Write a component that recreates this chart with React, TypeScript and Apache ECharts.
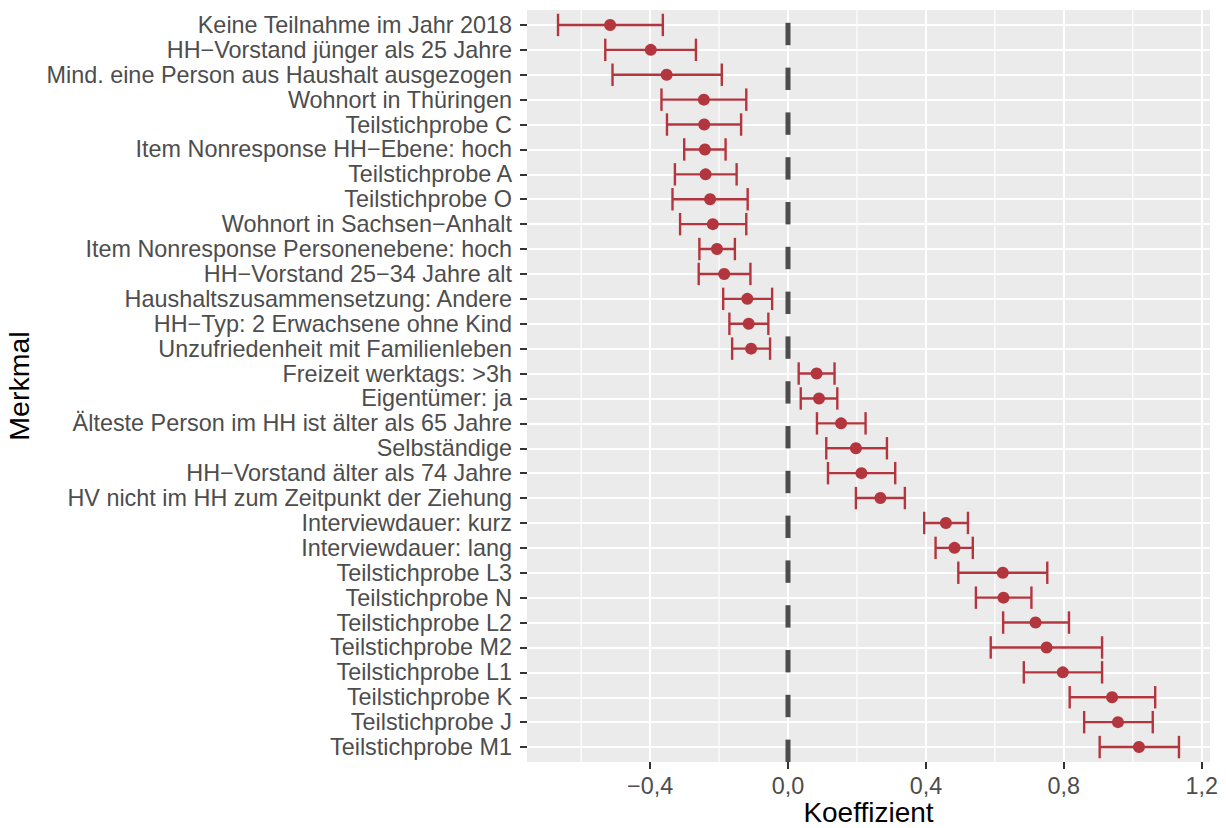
import React, { useEffect, useRef } from "react";
import * as echarts from "echarts";

const categories: string[] = [
  "Keine Teilnahme im Jahr 2018",
  "HH−Vorstand jünger als 25 Jahre",
  "Mind. eine Person aus Haushalt ausgezogen",
  "Wohnort in Thüringen",
  "Teilstichprobe C",
  "Item Nonresponse HH−Ebene: hoch",
  "Teilstichprobe A",
  "Teilstichprobe O",
  "Wohnort in Sachsen−Anhalt",
  "Item Nonresponse Personenebene: hoch",
  "HH−Vorstand 25−34 Jahre alt",
  "Haushaltszusammensetzung: Andere",
  "HH−Typ: 2 Erwachsene ohne Kind",
  "Unzufriedenheit mit Familienleben",
  "Freizeit werktags: >3h",
  "Eigentümer: ja",
  "Älteste Person im HH ist älter als 65 Jahre",
  "Selbständige",
  "HH−Vorstand älter als 74 Jahre",
  "HV nicht im HH zum Zeitpunkt der Ziehung",
  "Interviewdauer: kurz",
  "Interviewdauer: lang",
  "Teilstichprobe L3",
  "Teilstichprobe N",
  "Teilstichprobe L2",
  "Teilstichprobe M2",
  "Teilstichprobe L1",
  "Teilstichprobe K",
  "Teilstichprobe J",
  "Teilstichprobe M1",
];

const estimate: number[] = [
  -0.516, -0.398, -0.352, -0.244, -0.243, -0.241, -0.239, -0.226, -0.218, -0.206,
  -0.185, -0.118, -0.114, -0.107, 0.083, 0.09, 0.154, 0.197, 0.213, 0.268,
  0.458, 0.483, 0.623, 0.625, 0.718, 0.75, 0.797, 0.94, 0.957, 1.018,
];

const lower: number[] = [
  -0.667, -0.53, -0.509, -0.367, -0.351, -0.301, -0.328, -0.335, -0.313, -0.257,
  -0.259, -0.188, -0.17, -0.162, 0.031, 0.037, 0.084, 0.111, 0.116, 0.197,
  0.395, 0.428, 0.494, 0.545, 0.624, 0.588, 0.684, 0.817, 0.859, 0.904,
];

const upper: number[] = [
  -0.363, -0.267, -0.192, -0.121, -0.136, -0.181, -0.149, -0.117, -0.121, -0.154,
  -0.109, -0.046, -0.057, -0.052, 0.135, 0.143, 0.225, 0.287, 0.311, 0.339,
  0.522, 0.536, 0.752, 0.706, 0.815, 0.911, 0.911, 1.065, 1.058, 1.134,
];

const xMajorBreaks: number[] = [-0.4, 0, 0.4, 0.8, 1.2];
const xMinorBreaks: number[] = [-0.6, -0.2, 0.2, 0.6, 1.0];
const refLine: number[] = [0];

const X_MIN = -0.757;
const X_MAX = 1.224;
const Y_MIN = 0.4;
const Y_MAX = categories.length + 0.6;

const RED = "#B3363E";
const FONT = "Liberation Sans";
const DASH = 22.4;
const GAP = 22.4;

const fmtX = (v: number) => {
  const s = Math.abs(v).toFixed(1).replace(".", ",");
  return v < -1e-9 ? "−" + s : s;
};

export default function App() {
  const ref = useRef<HTMLDivElement>(null);

  useEffect(() => {
    if (!ref.current) return;
    const chart = echarts.init(ref.current, undefined, { renderer: "svg" });
    const yPos = categories.map((_, i) => i + 1);

    const option: any = {
      animation: false,
      backgroundColor: "#FFFFFF",
      textStyle: { fontFamily: FONT },
      grid: {
        left: 527,
        right: 16,
        top: 10,
        bottom: 66,
        show: true,
        backgroundColor: "#EBEBEB",
        borderWidth: 0,
        containLabel: false,
        outerBoundsMode: "none",
      },
      xAxis: {
        type: "value",
        min: X_MIN,
        max: X_MAX,
        axisLine: { show: false, onZero: false },
        axisTick: {
          show: true,
          customValues: xMajorBreaks,
          length: 7,
          lineStyle: { color: "#333333", width: 2 },
        },
        axisLabel: {
          customValues: xMajorBreaks,
          formatter: (v: number) => fmtX(v),
          fontSize: 23.4,
          color: "#4D4D4D",
          margin: 12,
          fontFamily: FONT,
        },
        splitLine: { show: true, lineStyle: { color: "#FFFFFF", width: 2.1 } },
        name: "Koeffizient",
        nameLocation: "middle",
        nameGap: 36.5,
        nameMoveOverlap: false,
        nameTextStyle: { fontSize: 28, color: "#000000", fontFamily: FONT },
      },
      yAxis: {
        type: "value",
        inverse: true,
        min: Y_MIN,
        max: Y_MAX,
        axisLine: { show: false, onZero: false },
        axisTick: {
          show: true,
          customValues: yPos,
          length: 7,
          lineStyle: { color: "#333333", width: 2 },
        },
        axisLabel: {
          customValues: yPos,
          formatter: (v: number) => categories[Math.round(v) - 1] ?? "",
          fontSize: 23.4,
          color: "#4D4D4D",
          margin: 15,
          fontFamily: FONT,
        },
        splitLine: { show: true, lineStyle: { color: "#FFFFFF", width: 2.1 } },
        name: "Merkmal",
        nameLocation: "middle",
        nameGap: 494,
        nameRotate: 90,
        nameTextStyle: { fontSize: 28.5, color: "#000000", fontFamily: FONT },
      },
      series: [
        {
          type: "custom",
          name: "minorGrid",
          silent: true,
          z: 1,
          data: xMinorBreaks.map((v) => [v]),
          encode: { x: 0 },
          renderItem: (params: any, api: any) => {
            const v = api.value(0);
            const a = api.coord([v, Y_MIN]);
            const b = api.coord([v, Y_MAX]);
            return {
              type: "line",
              shape: { x1: a[0], y1: a[1], x2: b[0], y2: b[1] },
              style: { stroke: "#FFFFFF", lineWidth: 1.1 },
            };
          },
        },
        {
          type: "custom",
          name: "zero",
          silent: true,
          z: 2,
          data: refLine.map((v) => [v]),
          encode: { x: 0 },
          renderItem: (params: any, api: any) => {
            const v = api.value(0);
            const bottom = api.coord([v, Y_MAX]);
            const top = api.coord([v, Y_MIN]);
            const children: any[] = [];
            let y = bottom[1];
            while (y > top[1]) {
              const y2 = Math.max(top[1], y - DASH);
              children.push({
                type: "line",
                shape: { x1: bottom[0], y1: y, x2: bottom[0], y2: y2 },
                style: { stroke: "#4D4D4D", lineWidth: 5, lineCap: "butt" },
              });
              y -= DASH + GAP;
            }
            return { type: "group", children };
          },
        },
        {
          type: "custom",
          name: "errorbars",
          silent: true,
          z: 3,
          data: categories.map((_, i) => [i + 1, lower[i], upper[i]]),
          encode: { x: [1, 2], y: 0 },
          renderItem: (params: any, api: any) => {
            const y = api.value(0);
            const l = api.coord([api.value(1), y]);
            const r = api.coord([api.value(2), y]);
            const h = api.size([0, 1])[1] * 0.45;
            const st = { stroke: RED, lineWidth: 2.4 };
            return {
              type: "group",
              children: [
                { type: "line", shape: { x1: l[0], y1: l[1], x2: r[0], y2: r[1] }, style: st },
                { type: "line", shape: { x1: l[0], y1: l[1] - h, x2: l[0], y2: l[1] + h }, style: st },
                { type: "line", shape: { x1: r[0], y1: r[1] - h, x2: r[0], y2: r[1] + h }, style: st },
              ],
            };
          },
        },
        {
          type: "scatter",
          name: "Koeffizient",
          z: 4,
          symbol: "circle",
          symbolSize: 12,
          itemStyle: { color: RED, opacity: 1 },
          data: categories.map((_, i) => [estimate[i], i + 1]),
        },
      ],
    };

    chart.setOption(option);
    return () => chart.dispose();
  }, []);

  return (
    <div
      ref={ref}
      style={{ position: "fixed", left: 0, top: 0, width: 1226, height: 828 }}
    />
  );
}
